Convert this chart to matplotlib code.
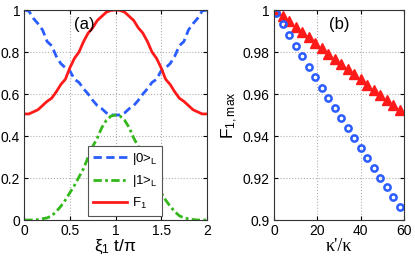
import matplotlib
matplotlib.use("Agg")
import matplotlib.pyplot as plt
import numpy as np

plt.rcParams['font.family'] = ['Liberation Sans', 'DejaVu Sans']
plt.rcParams['mathtext.fontset'] = 'custom'
plt.rcParams['mathtext.rm'] = 'Liberation Sans'
plt.rcParams['mathtext.it'] = 'Liberation Sans'

# Panel (a)
t = np.round(np.arange(0, 2.0001, 0.05), 2)
pop0 = [1.0, 0.995, 0.96, 0.935, 0.905, 0.85, 0.83, 0.78, 0.745, 0.725, 0.71,
        0.67, 0.655, 0.625, 0.60, 0.57, 0.545, 0.53, 0.51, 0.50, 0.50,
        0.50, 0.51, 0.53, 0.545, 0.57, 0.60, 0.625, 0.655, 0.67,
        0.71, 0.725, 0.745, 0.78, 0.83, 0.85, 0.905, 0.935, 0.96, 0.995, 1.0]
pop1 = [0.0, 0.0, 0.0, 0.002, 0.006, 0.01, 0.02, 0.04, 0.065, 0.095, 0.13,
        0.165, 0.205, 0.245, 0.30, 0.35, 0.39, 0.44, 0.475, 0.495, 0.50,
        0.495, 0.475, 0.44, 0.39, 0.35, 0.30, 0.245, 0.205, 0.165, 0.13,
        0.095, 0.065, 0.04, 0.02, 0.01, 0.006, 0.002, 0.0, 0.0, 0.0]
fid = [0.505, 0.505, 0.515, 0.525, 0.545, 0.565, 0.58, 0.61, 0.645, 0.67, 0.725,
       0.77, 0.80, 0.85, 0.89, 0.915, 0.95, 0.97, 0.99, 0.998, 1.0,
       0.998, 0.99, 0.97, 0.95, 0.915, 0.89, 0.85, 0.80, 0.77, 0.725,
       0.67, 0.645, 0.61, 0.58, 0.565, 0.545, 0.525, 0.515, 0.505, 0.505]

# Panel (b)
kappa = [1, 4, 7, 10, 13, 16, 19, 22, 25, 28, 31, 34, 37, 40, 43, 46, 49, 52, 55, 58]
f_circ = [0.9984, 0.9932, 0.988, 0.983, 0.978, 0.973, 0.968, 0.963, 0.958, 0.9535,
          0.9486, 0.9437, 0.939, 0.9344, 0.9295, 0.9248, 0.920, 0.9156, 0.911, 0.9063]
f_tri = [1.0, 0.997, 0.9948, 0.992, 0.9897, 0.987, 0.9845, 0.9817, 0.979, 0.9768,
         0.9743, 0.972, 0.9695, 0.967, 0.9644, 0.962, 0.9594, 0.957, 0.9548, 0.9524]

W, H = 415, 264
fig = plt.figure(figsize=(W/100, H/100), dpi=100)
ax1 = fig.add_axes([24.3/W, 44/H, 182.4/W, 210/H])
ax2 = fig.add_axes([274/W, 44/H, 130/W, 210/H])

blue = '#2a5cff'
green = '#33b81a'
red = '#ff1a1a'

ax1.plot(t, pop0, '--', color=blue, lw=2, dashes=(3, 1.6), label=r'|0>$_\mathregular{L}$')
ax1.plot(t, pop1, '-.', color=green, lw=2, dashes=(3, 1.2, 1, 1.2), label=r'|1>$_\mathregular{L}$')
ax1.plot(t, fid, '-', color=red, lw=2, label=r'F$_\mathregular{1}$')
ax1.set_xlim(0, 2)
ax1.set_ylim(0, 1)
ax1.set_xticks([0, 0.5, 1, 1.5, 2])
ax1.set_xticklabels(['0', '0.5', '1', '1.5', '2'])
ax1.set_yticks([0, 0.2, 0.4, 0.6, 0.8, 1])
ax1.set_yticklabels(['0', '0.2', '0.4', '0.6', '0.8', '1'])
ax1.set_xlabel(r'ξ$_\mathregular{1}$ t/π', fontsize=12.5, labelpad=0)
ax1.text(0.27, 0.93, '(a)', transform=ax1.transAxes, fontsize=12, ha='left', va='center')
leg = ax1.legend(loc='lower left', bbox_to_anchor=(0.35, 0.02), fontsize=9.5,
                 handlelength=2.6, handletextpad=0.4, borderpad=0.35,
                 labelspacing=0.5, fancybox=False, framealpha=1, edgecolor='#555555',
                 borderaxespad=0)
leg.get_frame().set_linewidth(0.8)

ax2.plot(kappa, f_tri, '^', color=red, ms=7, mec=red, linestyle='none')
ax2.plot(kappa, f_circ, 'o', color=blue, mfc='none', mec=blue, mew=1.8, ms=4.5, linestyle='none')
ax2.set_xlim(0, 60)
ax2.set_ylim(0.9, 1.0)
ax2.set_xticks([0, 20, 40, 60])
ax2.set_yticks([0.9, 0.92, 0.94, 0.96, 0.98, 1.0])
ax2.set_yticklabels(['0.9', '0.92', '0.94', '0.96', '0.98', '1'])
ax2.set_xlabel("κ'/κ", fontsize=13, labelpad=0, family=['Liberation Serif', 'DejaVu Serif'])
ax2.set_ylabel(r'F$_\mathregular{1,max}$', fontsize=12.5, labelpad=2)
ax2.text(0.5, 0.93, '(b)', transform=ax2.transAxes, fontsize=12, ha='center', va='center')

for ax in (ax1, ax2):
    ax.grid(True, linestyle=':', color='#b0b0b0', lw=0.8)
    ax.tick_params(direction='in', labelsize=10, length=3, top=True, right=True, pad=3)
    for s in ax.spines.values():
        s.set_linewidth(0.8)
        s.set_color('#333333')
    ax.set_axisbelow(True)

fig.savefig('out.png', dpi=100)
